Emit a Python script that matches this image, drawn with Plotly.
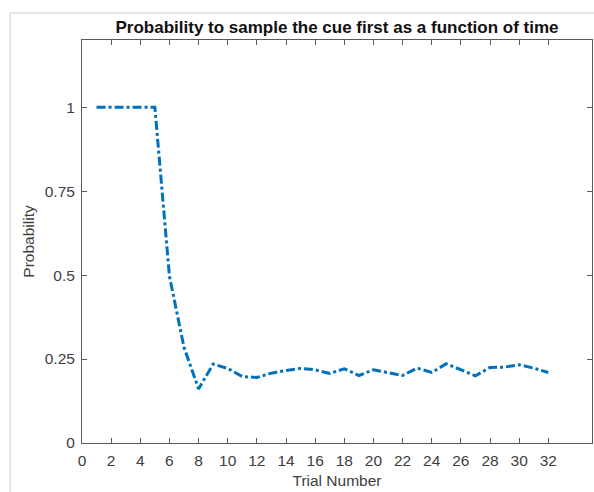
import plotly.graph_objects as go

trials = list(range(1, 33))
prob = [1.0, 1.0, 1.0, 1.0, 1.0, 0.497, 0.285, 0.161, 0.235, 0.222,
        0.198, 0.195, 0.208, 0.216, 0.222, 0.218, 0.207, 0.221, 0.201, 0.218,
        0.21, 0.201, 0.223, 0.21, 0.236, 0.218, 0.2, 0.225, 0.226, 0.233,
        0.223, 0.21]
x_ticks = list(range(0, 33, 2))
y_ticks = [0, 0.25, 0.5, 0.75, 1]
y_tick_labels = ["0", "0.25", "0.5", "0.75", "1"]

FONT = "Liberation Sans, Arial"

fig = go.Figure()
fig.add_trace(go.Scatter(
    x=trials, y=prob, mode="lines",
    line=dict(color="#0072BD", width=3, dash="9px,3px,3px,3px"),
    showlegend=False,
))

axis_common = dict(
    showline=True, linecolor="#5a5a5a", linewidth=1, mirror="ticks",
    ticks="inside", ticklen=5, tickcolor="#5a5a5a", showgrid=False,
    zeroline=False, tickfont=dict(family=FONT, size=15.5, color="#404040"),
)

fig.update_layout(
    width=594, height=492,
    margin=dict(l=82, r=2, t=40, b=49),
    paper_bgcolor="white", plot_bgcolor="white",
    title=dict(text="<b>Probability to sample the cue first as a function of time</b>",
               x=0.5, xref="paper", xanchor="center", y=0.945, yanchor="middle",
               font=dict(family=FONT, size=17, color="#111111")),
    xaxis=dict(range=[0, 35], tickvals=x_ticks, ticktext=[str(v) for v in x_ticks],
               ticklabelstandoff=3,
               title=dict(text="Trial Number", standoff=7,
                          font=dict(family=FONT, size=15.5, color="#404040")),
               **axis_common),
    yaxis=dict(range=[0, 1.2], tickvals=y_ticks, ticktext=y_tick_labels,
               ticklabelstandoff=3,
               title=dict(text="Probability", standoff=6,
                          font=dict(family=FONT, size=15.5, color="#404040")),
               **axis_common),
    shapes=[dict(type="rect", xref="paper", yref="paper",
                 x0=-0.141, x1=1.2, y0=-0.3, y1=1.067,
                 line=dict(color="#cccccc", width=1), layer="below")],
)

fig.write_html("out.html")
